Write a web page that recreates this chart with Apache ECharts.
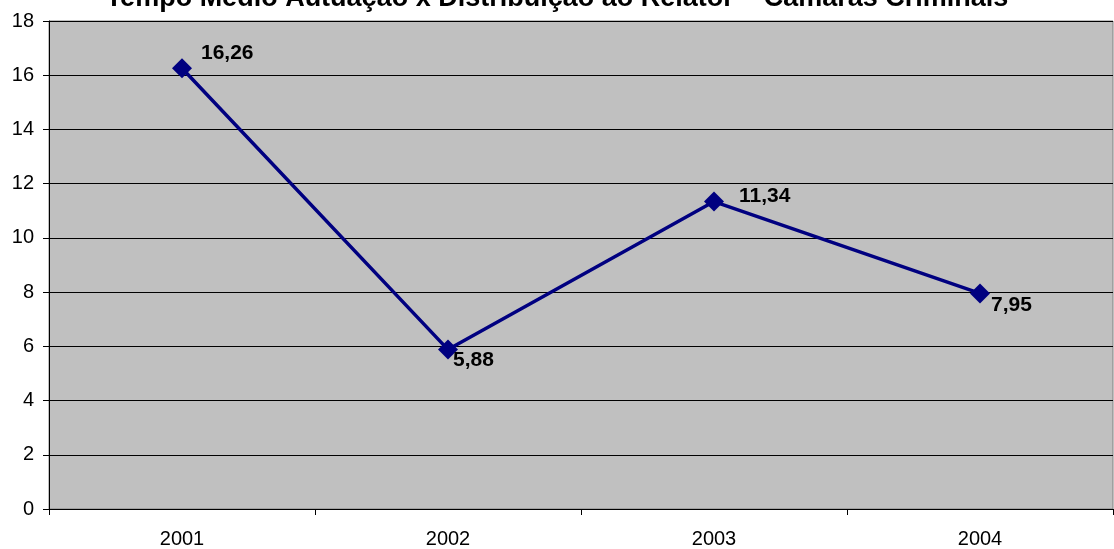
<!DOCTYPE html>
<html>
<head>
<meta charset="utf-8">
<script src="https://cdn.jsdelivr.net/npm/echarts@6/dist/echarts.min.js"></script>
<style>html,body{margin:0;padding:0;background:#fff}#c{width:1114px;height:549px}</style>
</head>
<body>
<div id="c"></div>
<script>
const titleText = 'Tempo Médio Autuação x Distribuição ao Relator – Câmaras Criminais';
const categories = ['2001', '2002', '2003', '2004'];
const values = [16.26, 5.88, 11.34, 7.95];
const labelOffsets = [[4, -15], [-10, 11], [10, -5], [-4, 12]];

const chart = echarts.init(document.getElementById('c'), null, {renderer: 'canvas'});
const font = 'Arial, "Liberation Sans", sans-serif';
chart.setOption({
  animation: false,
  backgroundColor: '#ffffff',
  title: {
    text: titleText,
    left: 'center',
    top: -20,
    textStyle: {fontFamily: font, fontSize: 27, fontWeight: 'bold', color: '#000'}
  },
  grid: {
    left: 49, right: 1, top: 21, bottom: 40,
    show: true, backgroundColor: '#C0C0C0', borderColor: '#808080', borderWidth: 1
  },
  xAxis: {
    type: 'category',
    data: categories,
    boundaryGap: true,
    axisLine: {lineStyle: {color: '#000', width: 1}},
    axisTick: {show: true, length: 6, inside: false, lineStyle: {color: '#000'}},
    axisLabel: {fontFamily: font, fontSize: 20, color: '#000', margin: 20}
  },
  yAxis: {
    type: 'value',
    min: 0, max: 18, interval: 2,
    axisLine: {show: true, lineStyle: {color: '#000', width: 1}},
    axisTick: {show: true, length: 6, inside: false, lineStyle: {color: '#000'}},
    axisLabel: {fontFamily: font, fontSize: 20, color: '#000', margin: 15},
    splitLine: {show: true, lineStyle: {color: '#000', width: 1}}
  },
  series: [{
    type: 'line',
    data: values.map((v, i) => ({
      value: v,
      label: {offset: labelOffsets[i]}
    })),
    lineStyle: {color: '#000080', width: 3.5},
    itemStyle: {color: '#000080'},
    symbol: 'diamond',
    symbolSize: 20,
    label: {
      show: true,
      position: 'right',
      distance: 5,
      fontFamily: font,
      fontSize: 21,
      fontWeight: 'bold',
      color: '#000',
      formatter: p => String(p.value).replace('.', ',')
    }
  }]
});
</script>
</body>
</html>
